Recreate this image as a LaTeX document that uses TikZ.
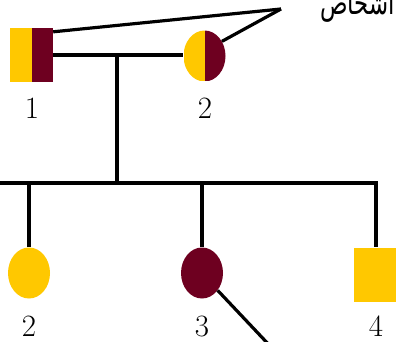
\documentclass[tikz,border=0pt]{standalone}
\usepackage{fontspec}
\usetikzlibrary{shapes.geometric}
\TeXXeTstate=1
\newfontfamily\arabicfont[Script=Arabic]{DejaVu Sans}
\definecolor{gold}{RGB}{255,200,0}
\definecolor{maroon}{RGB}{110,0,32}
\tikzset{
  link/.style={line width=3.2pt, black},
  male/.style={rectangle, inner sep=0pt, minimum width=43pt, minimum height=54pt},
  female/.style={ellipse, inner sep=0pt, minimum width=42pt, minimum height=51pt},
  halfsplit/.style={path picture={
      \fill[gold] (path picture bounding box.south west) rectangle (path picture bounding box.north);
      \fill[maroon] (path picture bounding box.south) rectangle (path picture bounding box.north east);}},
  num/.style={font=\fontsize{31}{31}\selectfont, inner sep=0pt}
}
\begin{document}
\begin{tikzpicture}[x=1pt,y=-1pt]
\useasboundingbox (0,0) rectangle (396,342);
\clip (0,0) rectangle (396,342);
% parents
\node[male, halfsplit] (p1) at (31.5,55) {};
\node[female, halfsplit] (p2) at (204.5,56) {};
\node[num] (l1) at (32,108) {1};
\node[num] (l2) at (205,108) {2};
% children
\node[female, fill=gold] (c2) at (29,273) {};
\node[female, fill=maroon] (c3) at (202,273) {};
\node[male, fill=gold, minimum width=44pt] (c4) at (376,274.5) {};
\node[num] (l3) at (29,326) {2};
\node[num] (l4) at (202,326) {3};
\node[num] (l5) at (376,326) {4};
% label text
\node[anchor=base east, inner sep=0pt, font=\fontsize{24}{24}\selectfont] (txt) at (395,15) {\scalebox{0.95}[1.35]{\arabicfont\beginR أشخاص\endR}};
% connectors
\coordinate (mid) at (117,55);
\coordinate (sib) at (117,183);
\coordinate (sibL) at (-5,183);
\coordinate (apex) at (281,9);
\coordinate (tail) at (272,348);
\draw[link] (p1.east |- mid) -- (p2.west |- mid);
\draw[link] (mid) -- (sib);
\draw[link] (sibL) -- (c4.north |- sib) -- (c4.north);
\draw[link] (c2.north |- sib) -- (c2.north);
\draw[link] (c3.north |- sib) -- (c3.north);
\draw[link] (p1.north east) ++(0,4) -- (apex);
\draw[link] (p2.40) -- (apex);
\draw[link] (c3.-48) -- (tail);
\end{tikzpicture}
\end{document}
